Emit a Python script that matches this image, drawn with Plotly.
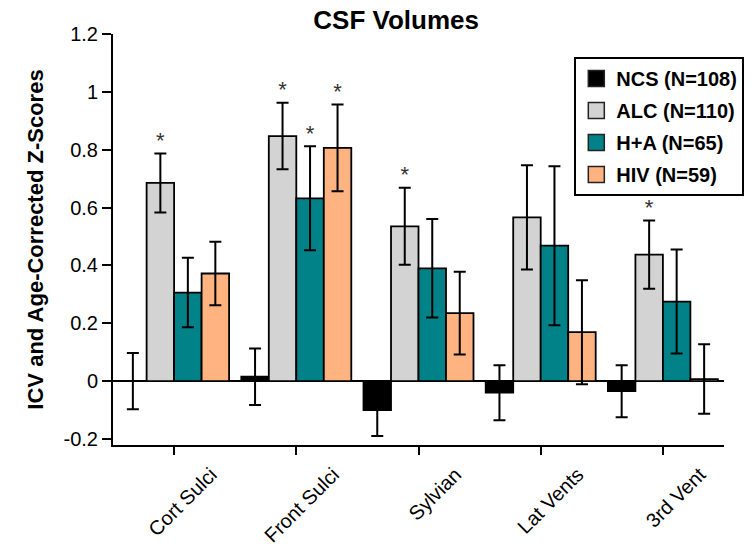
import plotly.graph_objects as go

categories = ["Cort Sulci", "Front Sulci", "Sylvian", "Lat Vents", "3rd Vent"]
groups = ["NCS (N=108)", "ALC (N=110)", "H+A (N=65)", "HIV (N=59)"]
colors = ["#000000", "#d3d3d3", "#008288", "#ffb380"]

ncs = [0.0, 0.015, -0.10, -0.04, -0.035]
alc = [0.685, 0.847, 0.535, 0.566, 0.437]
hpa = [0.306, 0.632, 0.390, 0.468, 0.275]
hiv = [0.372, 0.806, 0.235, 0.169, 0.007]

ncs_err = [0.097, 0.098, 0.09, 0.095, 0.09]
alc_err = [0.102, 0.115, 0.133, 0.18, 0.118]
hpa_err = [0.12, 0.18, 0.17, 0.275, 0.18]
hiv_err = [0.11, 0.15, 0.143, 0.18, 0.12]

# significance stars: (category index, group index)
stars = [(0, 1), (1, 1), (1, 2), (1, 3), (2, 1), (4, 1)]

ytickvals = [-0.2, 0, 0.2, 0.4, 0.6, 0.8, 1.0, 1.2]
yticktext = ["-0.2", "0", "0.2", "0.4", "0.6", "0.8", "1", "1.2"]

values = [ncs, alc, hpa, hiv]
errors = [ncs_err, alc_err, hpa_err, hiv_err]

bar_w = 0.225
offsets = [(-1.5 + g) * bar_w for g in range(4)]

FONT = "Liberation Sans, Arial, sans-serif"

fig = go.Figure()
for g in range(4):
    xs = [i + offsets[g] for i in range(len(categories))]
    fig.add_trace(go.Bar(
        x=xs, y=values[g], width=bar_w,
        marker=dict(color=colors[g], line=dict(color="black", width=1.8)),
        error_y=dict(type="data", array=errors[g], color="black", thickness=2, width=6),
        showlegend=False, name=groups[g],
    ))

# legend swatches
for g in range(4):
    fig.add_trace(go.Scatter(
        x=[None], y=[None], mode="markers", name=groups[g], legendgroup=groups[g],
        marker=dict(symbol="square", size=16, color=colors[g], line=dict(color="#222", width=1.5)),
    ))

sx = [ci + offsets[gi] for ci, gi in stars]
sy = [values[gi][ci] + errors[gi][ci] for ci, gi in stars]
fig.add_trace(go.Scatter(
    x=sx, y=sy, mode="text", text=["*"] * len(stars), textposition="top center",
    textfont=dict(size=22, color="#333", family=FONT), showlegend=False, hoverinfo="skip",
))

fig.update_layout(
    width=756, height=549,
    margin=dict(l=113, r=23, t=34, b=104),
    paper_bgcolor="white", plot_bgcolor="white",
    font=dict(family=FONT, color="black"),
    barmode="overlay",
    title=dict(text="<b>CSF Volumes</b>", x=0.524, xanchor="center", y=0.964, yanchor="middle",
               font=dict(size=26, family=FONT, color="black")),
    legend=dict(x=0.755, y=0.944, xanchor="left", yanchor="top",
                bordercolor="black", borderwidth=2, bgcolor="white",
                font=dict(size=20, family=FONT, color="black", weight="bold"),
                itemwidth=30, tracegroupgap=3),
    showlegend=True,
)
fig.update_xaxes(
    range=[-0.5, 4.5], tickvals=list(range(len(categories))), ticktext=categories,
    tickangle=-45, showline=True, linecolor="black", linewidth=2,
    ticks="outside", ticklen=8, tickwidth=2, tickcolor="black",
    showgrid=False, zeroline=False, tickfont=dict(size=20, color="black"),
    ticklabelshift=37, automargin=False,
)
fig.update_yaxes(
    range=[-0.221, 1.2], tickvals=ytickvals, ticktext=yticktext,
    showline=True, linecolor="black", linewidth=2,
    ticks="outside", ticklen=9, tickwidth=2, tickcolor="black",
    showgrid=False, zeroline=True, zerolinecolor="black", zerolinewidth=1.5,
    tickfont=dict(size=20, color="black"), automargin=False,
    title=dict(text="<b>ICV and Age-Corrected Z-Scores</b>", font=dict(size=22, color="black"), standoff=14),
)

fig.write_html("out.html")
